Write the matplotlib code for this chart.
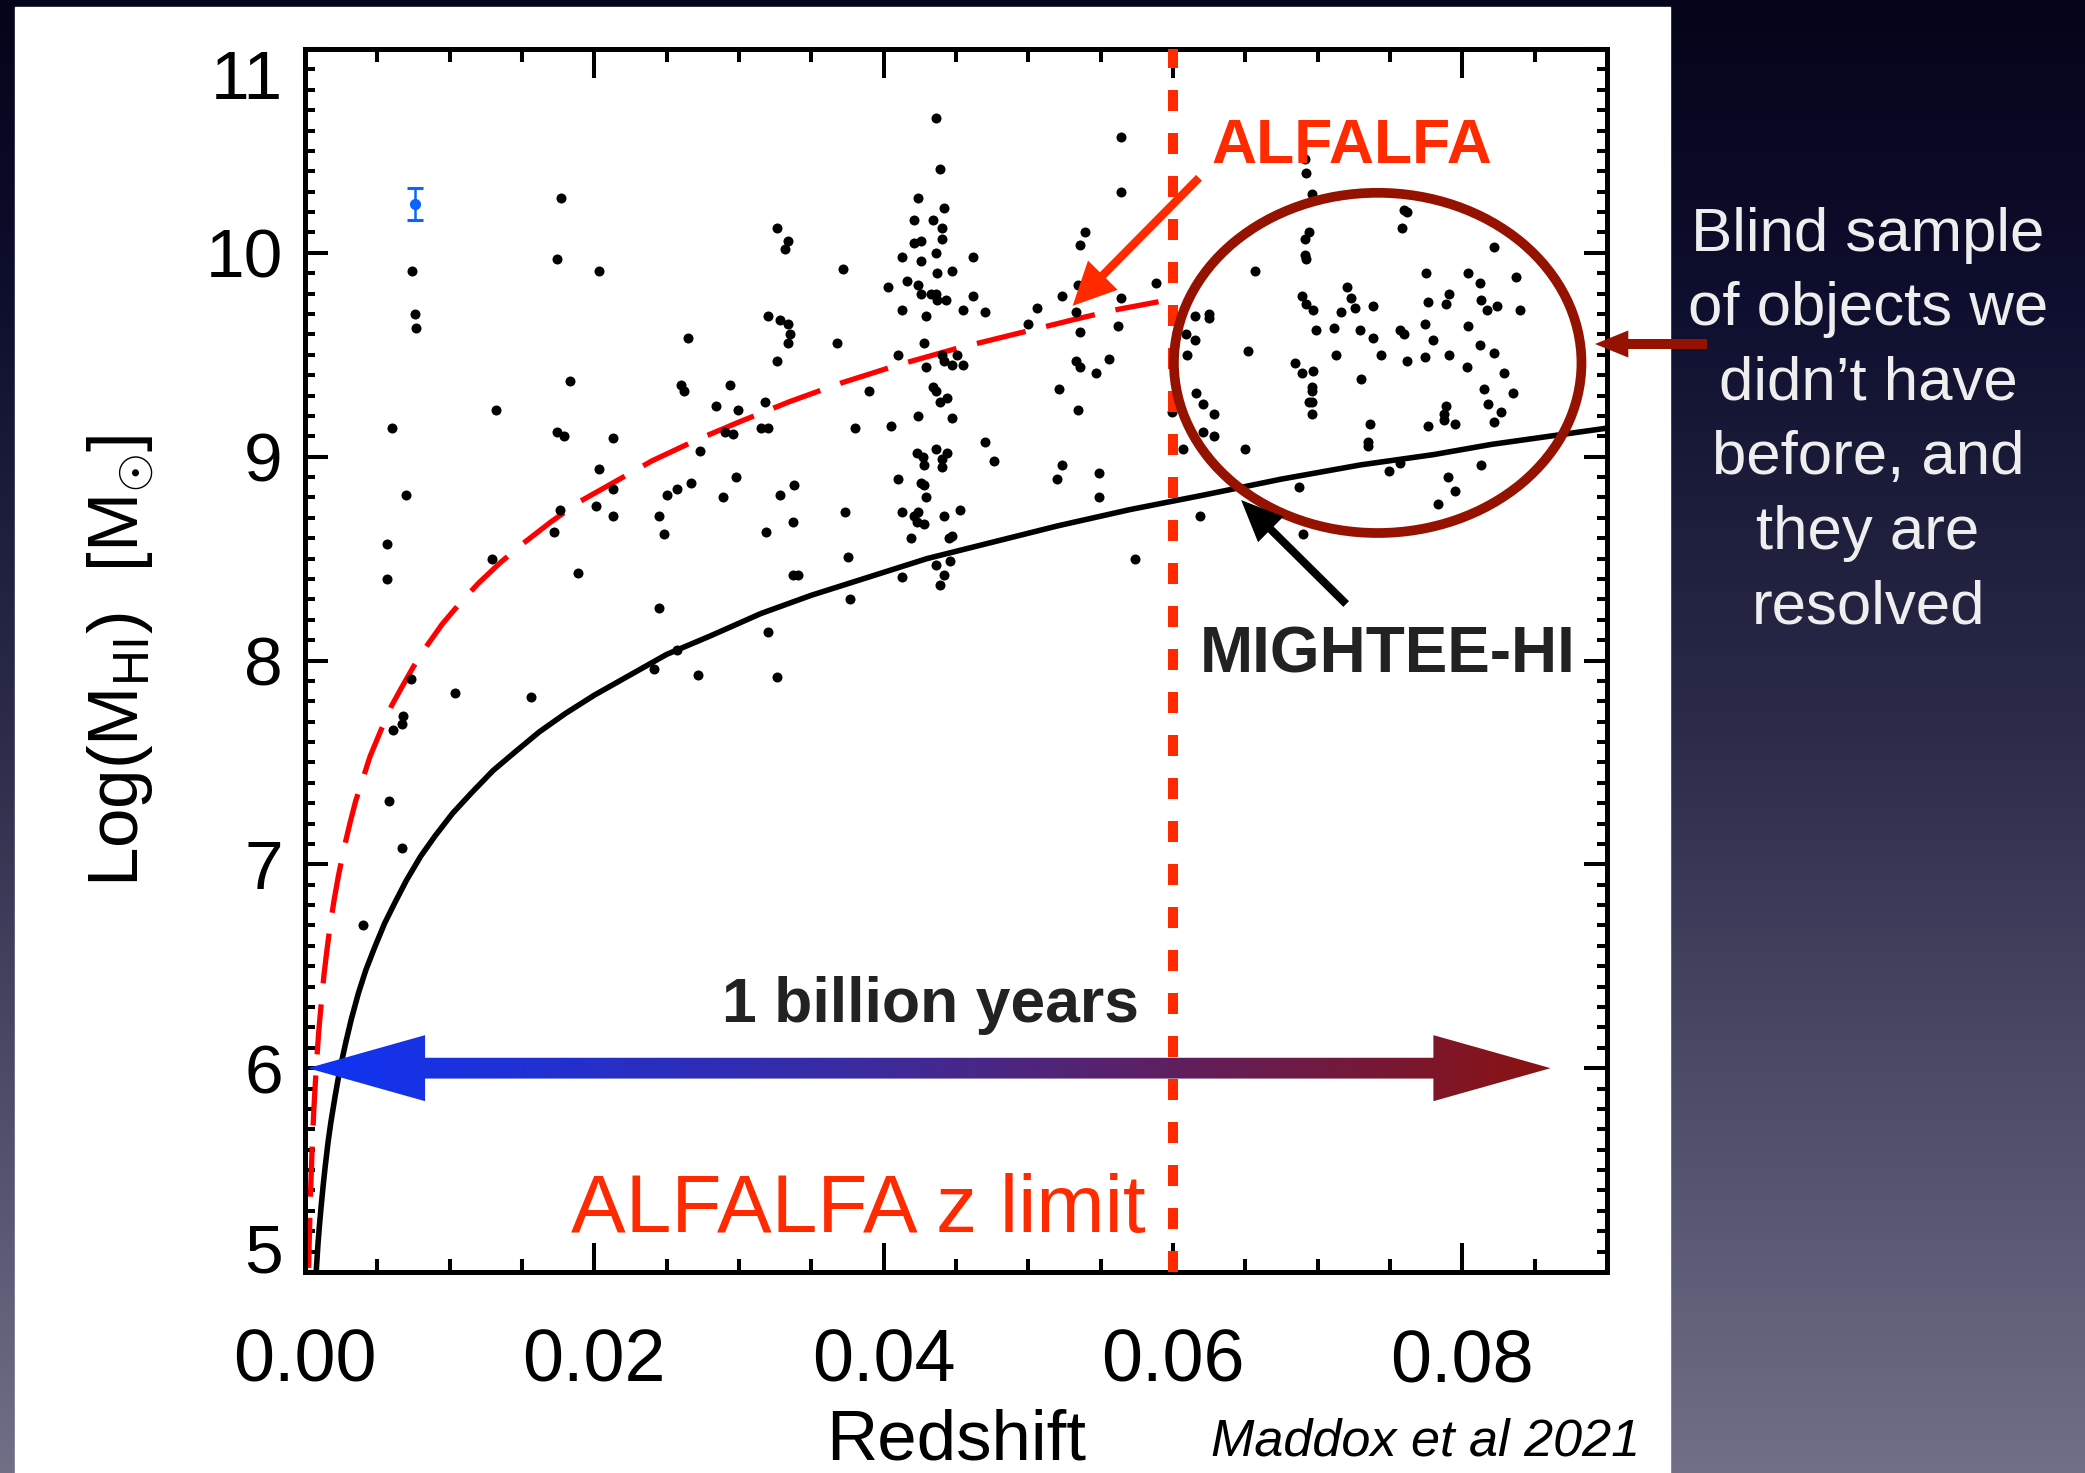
#! /bin/python3

import numpy as np
import matplotlib
matplotlib.use("Agg")
from matplotlib import pyplot as plt
import matplotlib.ticker as mticker
from matplotlib.patches import Ellipse, Polygon, Rectangle, FancyArrowPatch
from matplotlib.colors import LinearSegmentedColormap

plt.rcParams['font.family'] = ['Liberation Sans', 'DejaVu Sans']
plt.rcParams['mathtext.fontset'] = 'custom'
plt.rcParams['mathtext.rm'] = 'Liberation Sans'
plt.rcParams['mathtext.it'] = 'Liberation Sans:italic'

# DATA
gal_z = [
    0.0177, 0.0174, 0.0203, 0.0074, 0.0076, 0.0077, 0.0265, 0.0183, 0.0260, 0.0262,
    0.0294, 0.0132, 0.0284, 0.0299, 0.0060, 0.0174, 0.0179, 0.0213, 0.0290, 0.0296,
    0.0273, 0.0203, 0.0267, 0.0298, 0.0213, 0.0250, 0.0257, 0.0289, 0.0070,
    0.0057, 0.0057, 0.0129, 0.0176, 0.0172, 0.0201, 0.0213, 0.0189, 0.0245, 0.0248,
    0.0245, 0.0257, 0.0241, 0.0272, 0.0073, 0.0104, 0.0156, 0.0068, 0.0067, 0.0061,
    0.0058, 0.0067, 0.0040,
    0.0436, 0.0439, 0.0564, 0.0564, 0.0424, 0.0442, 0.0421, 0.0434, 0.0440, 0.0440,
    0.0326, 0.0334, 0.0332, 0.0421, 0.0426, 0.0436, 0.0413, 0.0426, 0.0462, 0.0539,
    0.0536, 0.0372, 0.0437, 0.0447, 0.0403, 0.0416, 0.0424, 0.0426, 0.0433, 0.0436,
    0.0437, 0.0443, 0.0462, 0.0455, 0.0470, 0.0413, 0.0429, 0.0534, 0.0523, 0.0506,
    0.0500, 0.0533, 0.0536, 0.0564, 0.0562, 0.0588, 0.0320, 0.0328, 0.0334, 0.0335,
    0.0334, 0.0326, 0.0368, 0.0428, 0.0410, 0.0440, 0.0442, 0.0447, 0.0451, 0.0455,
    0.0429, 0.0533, 0.0536, 0.0556, 0.0547, 0.0521, 0.0534, 0.0390, 0.0318, 0.0315,
    0.0320, 0.0380, 0.0405, 0.0424, 0.0434, 0.0436, 0.0439, 0.0444, 0.0447, 0.0470,
    0.0476, 0.0436, 0.0423, 0.0427, 0.0444, 0.0428, 0.0440, 0.0440, 0.0410, 0.0426,
    0.0428, 0.0429, 0.0328, 0.0338, 0.0520, 0.0523, 0.0549, 0.0549, 0.0607, 0.0599,
    0.0373, 0.0413, 0.0421, 0.0424, 0.0423, 0.0428, 0.0442, 0.0453, 0.0337, 0.0319,
    0.0419, 0.0445, 0.0447, 0.0375, 0.0337, 0.0341, 0.0436, 0.0446, 0.0442, 0.0439,
    0.0413, 0.0377, 0.0320, 0.0326, 0.0574, 0.0619,
    0.0691, 0.0692, 0.0696, 0.0760, 0.0762, 0.0758, 0.0691, 0.0694, 0.0691, 0.0692,
    0.0822, 0.0657, 0.0775, 0.0804, 0.0812, 0.0813, 0.0837, 0.0791, 0.0776, 0.0789,
    0.0824, 0.0817, 0.0840, 0.0720, 0.0723, 0.0726, 0.0738, 0.0716, 0.0689, 0.0692,
    0.0697, 0.0699, 0.0711, 0.0729, 0.0738, 0.0757, 0.0760, 0.0774, 0.0780, 0.0804,
    0.0812, 0.0822, 0.0791, 0.0774, 0.0744, 0.0762, 0.0713, 0.0803, 0.0829, 0.0684,
    0.0689, 0.0697, 0.0696, 0.0696, 0.0694, 0.0696, 0.0696, 0.0730, 0.0815, 0.0835,
    0.0818, 0.0827, 0.0822, 0.0789, 0.0787, 0.0787, 0.0795, 0.0776, 0.0736, 0.0735,
    0.0735, 0.0615, 0.0625, 0.0625, 0.0609, 0.0615, 0.0610, 0.0616, 0.0621, 0.0628,
    0.0621, 0.0628, 0.0652, 0.0650, 0.0757, 0.0749, 0.0687, 0.0813, 0.0790, 0.0795,
    0.0783, 0.0690,
]
gal_logm = [
    10.27, 9.97, 9.91, 9.91, 9.70, 9.63, 9.58, 9.37, 9.35, 9.32,
    9.35, 9.23, 9.25, 9.23, 9.14, 9.12, 9.10, 9.09, 9.12, 9.11,
    9.03, 8.94, 8.87, 8.90, 8.84, 8.81, 8.84, 8.80, 8.81,
    8.57, 8.40, 8.50, 8.74, 8.63, 8.76, 8.71, 8.43, 8.71, 8.62,
    8.26, 8.05, 7.96, 7.93, 7.91, 7.84, 7.82, 7.73, 7.69, 7.66,
    7.31, 7.08, 6.70,
    10.66, 10.41, 10.57, 10.30, 10.27, 10.22, 10.16, 10.16, 10.12, 10.07,
    10.12, 10.06, 10.02, 10.05, 10.06, 10.00, 9.98, 9.96, 9.98, 10.10,
    10.04, 9.92, 9.90, 9.91, 9.83, 9.86, 9.84, 9.80, 9.80, 9.80,
    9.77, 9.77, 9.79, 9.72, 9.71, 9.72, 9.69, 9.84, 9.79, 9.73,
    9.65, 9.71, 9.61, 9.78, 9.64, 9.85, 9.69, 9.67, 9.65, 9.60,
    9.56, 9.47, 9.56, 9.56, 9.50, 9.50, 9.47, 9.45, 9.50, 9.45,
    9.44, 9.47, 9.44, 9.48, 9.41, 9.33, 9.23, 9.32, 9.27, 9.14,
    9.14, 9.14, 9.15, 9.20, 9.34, 9.32, 9.27, 9.29, 9.19, 9.07,
    8.98, 9.04, 9.02, 9.00, 9.02, 8.96, 8.99, 8.95, 8.89, 8.87,
    8.86, 8.80, 8.81, 8.86, 8.89, 8.96, 8.92, 8.80, 9.04, 9.22,
    8.73, 8.73, 8.71, 8.73, 8.68, 8.67, 8.71, 8.74, 8.68, 8.63,
    8.60, 8.60, 8.61, 8.51, 8.42, 8.42, 8.47, 8.49, 8.42, 8.37,
    8.41, 8.30, 8.14, 7.92, 8.50, 8.71,
    10.46, 10.39, 10.29, 10.21, 10.20, 10.12, 10.07, 10.10, 9.99, 9.97,
    10.03, 9.91, 9.90, 9.90, 9.85, 9.77, 9.88, 9.80, 9.76, 9.75,
    9.74, 9.72, 9.72, 9.83, 9.78, 9.73, 9.74, 9.71, 9.79, 9.75,
    9.72, 9.62, 9.63, 9.62, 9.58, 9.62, 9.60, 9.65, 9.57, 9.64,
    9.55, 9.51, 9.50, 9.49, 9.50, 9.47, 9.50, 9.44, 9.41, 9.46,
    9.41, 9.42, 9.34, 9.32, 9.27, 9.27, 9.21, 9.38, 9.33, 9.31,
    9.26, 9.22, 9.17, 9.25, 9.21, 9.18, 9.16, 9.15, 9.16, 9.07,
    9.05, 9.69, 9.70, 9.68, 9.60, 9.57, 9.50, 9.31, 9.26, 9.21,
    9.12, 9.10, 9.52, 9.04, 8.97, 8.93, 8.85, 8.96, 8.90, 8.83,
    8.77, 8.62,
]

ref_z = [0.0076]
ref_logm = [10.24]
ref_err = [0.08]

alfalfa_z = [0.00025, 0.0003, 0.00035, 0.0004, 0.0005, 0.0006, 0.0007, 0.0008,
             0.00095, 0.0011, 0.0013, 0.0015, 0.0017, 0.002, 0.0023, 0.0027,
             0.0031, 0.0035, 0.004, 0.0045, 0.0052, 0.006, 0.0067, 0.0075,
             0.0085, 0.0095, 0.0107, 0.012, 0.0135, 0.015, 0.017, 0.019,
             0.0215, 0.024, 0.027, 0.03, 0.0335, 0.037, 0.041, 0.045,
             0.049, 0.053, 0.056, 0.059]
alfalfa_logm = [5.02, 5.17, 5.31, 5.42, 5.62, 5.78, 5.91, 6.03,
                6.18, 6.30, 6.45, 6.57, 6.68, 6.82, 6.94, 7.08,
                7.20, 7.31, 7.42, 7.53, 7.65, 7.78, 7.87, 7.97,
                8.08, 8.18, 8.28, 8.38, 8.48, 8.57, 8.68, 8.78,
                8.88, 8.98, 9.08, 9.17, 9.27, 9.36, 9.45, 9.53,
                9.60, 9.67, 9.72, 9.76]

mightee_z = [0.00078, 0.0009, 0.001, 0.0011, 0.00125, 0.0014, 0.0016, 0.0018,
             0.0021, 0.0024, 0.0028, 0.0032, 0.0037, 0.0042, 0.0048, 0.0055,
             0.0062, 0.007, 0.008, 0.009, 0.0102, 0.0115, 0.013, 0.0145,
             0.0162, 0.018, 0.02, 0.0225, 0.025, 0.028, 0.0315, 0.035,
             0.039, 0.043, 0.0475, 0.052, 0.057, 0.062, 0.0675, 0.073,
             0.078, 0.082, 0.086, 0.09]
mightee_logm = [5.01, 5.14, 5.23, 5.31, 5.42, 5.52, 5.64, 5.74,
                5.87, 5.99, 6.12, 6.24, 6.37, 6.48, 6.59, 6.71,
                6.81, 6.92, 7.04, 7.14, 7.25, 7.35, 7.46, 7.55,
                7.65, 7.74, 7.83, 7.93, 8.03, 8.12, 8.23, 8.32,
                8.41, 8.50, 8.58, 8.66, 8.74, 8.81, 8.89, 8.96,
                9.01, 9.06, 9.10, 9.14]

alfalfa_zlim = 0.06
billion_yr_logm = 6.0

xticks = [0.00, 0.02, 0.04, 0.06, 0.08]
xtick_labels = ['0.00', '0.02', '0.04', '0.06', '0.08']
yticks = [5, 6, 7, 8, 9, 10, 11]
ytick_labels = ['5', '6', '7', '8', '9', '10', '11']

blurb = ["Blind sample", "of objects we", "didn\u2019t have",
         "before, and", "they are", "resolved"]

RED = '#ff2a00'
DARKRED = '#961200'

W, H = 2085, 1473


def arrow(tail, tip, color, hl, hw, tw, transform, z=6):
    style = f'simple,head_length={hl},head_width={hw},tail_width={tw}'
    return FancyArrowPatch(tail, tip, arrowstyle=style, mutation_scale=1,
                           color=color, lw=0, shrinkA=0, shrinkB=0,
                           transform=transform, zorder=z)


def main():
    fig = plt.figure(figsize=(W / 100, H / 100), dpi=100)

    # SLIDE BACKGROUND + WHITE PANEL
    bg = fig.add_axes([0, 0, 1, 1], zorder=-5)
    bg_cmap = LinearSegmentedColormap.from_list(
        'bg', [(0, '#04041a'), (0.2, '#0e0e2e'), (0.5, '#2c2c4a'),
               (0.8, '#555470'), (1, '#716f86')])
    bg.imshow(np.linspace(0, 1, 256)[:, None], cmap=bg_cmap, aspect='auto',
              extent=[0, 1, 0, 1], origin='upper')
    bg.add_patch(Rectangle((15 / W, 0), (1670 - 15) / W, (H - 7) / H,
                           color='white'))
    bg.set_xlim(0, 1)
    bg.set_ylim(0, 1)
    bg.axis('off')

    # MAIN AXES
    ax = fig.add_axes([305 / W, 1 - 1272 / H, 1302 / W, 1223 / H])
    ax.set_facecolor('white')

    ax.scatter(gal_z, gal_logm, s=52, c='k', lw=0, zorder=3)
    ax.errorbar(ref_z, ref_logm, yerr=ref_err, fmt='o', ms=7, color='#0a64ff',
                capsize=6, capthick=2.2, elinewidth=1.8, zorder=3)

    ax.plot(alfalfa_z, alfalfa_logm, color='#ff0000', lw=3.8,
            ls=(0, (9.5, 4)), zorder=2)
    ax.plot(mightee_z, mightee_logm, color='k', lw=4, zorder=2)
    ax.axvline(alfalfa_zlim, color=RED, lw=7.2, ls=(0, (2.1, 2.2)), zorder=4)

    ax.add_patch(Ellipse((0.07415, 9.46), 0.02817, 1.669, fill=False,
                         ec=DARKRED, lw=7, zorder=5))

    # GRADIENT DOUBLE ARROW
    zl, zr, hd, hh, sh = 0.0002, 0.0861, 0.0081, 0.162, 0.051
    y0 = billion_yr_logm
    pts = [(zl, y0), (zl + hd, y0 + hh), (zl + hd, y0 + sh), (zr - hd, y0 + sh),
           (zr - hd, y0 + hh), (zr, y0), (zr - hd, y0 - hh), (zr - hd, y0 - sh),
           (zl + hd, y0 - sh), (zl + hd, y0 - hh)]
    poly = Polygon(pts, closed=True, fc='none', ec='none')
    ax.add_patch(poly)
    ar_cmap = LinearSegmentedColormap.from_list(
        'ar', [(0, '#0f34f5'), (0.45, '#3b2b9e'), (1, '#8b1212')])
    grad = ax.imshow(np.linspace(0, 1, 256)[None, :], cmap=ar_cmap,
                     aspect='auto', extent=[zl, zr, y0 - hh, y0 + hh], zorder=4)
    grad.set_clip_path(poly)

    # ANNOTATION ARROWS
    ax.add_patch(arrow((0.0618, 10.368), (0.05306, 9.74), RED, 31, 30, 6,
                       ax.transData))
    ax.add_patch(arrow((0.07197, 8.277), (0.06471, 8.787), 'k', 30, 26, 5.8,
                       ax.transData))
    fig.add_artist(arrow((1707 / W, 1 - 344 / H), (1595 / W, 1 - 344 / H),
                         DARKRED, 24, 19.5, 7.2, fig.transFigure, z=10))

    # TEXTS IN PLOT
    ax.text(0.07239, 10.442, 'ALFALFA', color=RED, fontsize=45,
            fontweight='bold', ha='center', va='baseline', zorder=7)
    ax.text(0.07486, 7.940, 'MIGHTEE-HI', color='#222222', fontsize=46,
            fontweight='bold', ha='center', va='baseline', zorder=7)
    ax.text(0.04322, 6.226, '1 billion years', color='#222222', fontsize=45,
            fontweight='bold', ha='center', va='baseline', zorder=7)
    ax.text(0.03824, 5.195, 'ALFALFA z limit', color=RED, fontsize=59,
            ha='center', va='baseline', zorder=7)

    # AXES STYLE
    ax.set_xlim(0, 0.09)
    ax.set_ylim(5, 11)
    ax.set_xticks(xticks)
    ax.set_xticklabels(xtick_labels)
    ax.set_yticks(yticks)
    ax.set_yticklabels(ytick_labels)
    ax.xaxis.set_minor_locator(mticker.MultipleLocator(0.005))
    ax.yaxis.set_minor_locator(mticker.MultipleLocator(0.1))
    ax.tick_params(which='both', direction='in', top=True, right=True,
                   width=2.9, color='k')
    ax.tick_params(axis='x', which='major', length=21, pad=40, labelsize=53)
    ax.tick_params(axis='x', which='minor', length=9.5)
    ax.tick_params(axis='y', which='major', length=16.5, pad=16, labelsize=50)
    ax.tick_params(axis='y', which='minor', length=7.2)
    for sp in ax.spines.values():
        sp.set_linewidth(3.6)
    ylabs = ax.get_yticklabels()
    ylabs[0].set_va('baseline')
    ylabs[-1].set_va('top')

    ax.set_xlabel('Redshift', fontsize=51)
    ax.xaxis.set_label_coords(0.5, -0.153)
    ax.xaxis.label.set_va('baseline')
    ax.set_ylabel(r'Log(M$_{\mathrm{HI}}$)  [M$_{\odot}$]', fontsize=51)
    ax.yaxis.set_label_coords(-0.1414, 0.5)
    ax.yaxis.label.set_va('center')

    fig.text(1426 / W, 1 - 1456 / H, 'Maddox et al 2021', fontsize=37.5,
             style='italic', ha='center', va='baseline', color='k')

    # SIDE NOTE
    for i, line in enumerate(blurb):
        fig.text(1868 / W, 1 - (251 + 74.5 * i) / H, line, fontsize=44.5,
                 color='#eeeeee', ha='center', va='baseline')

    fig.savefig('out.png', dpi=100)


if __name__ == "__main__":
    main()
